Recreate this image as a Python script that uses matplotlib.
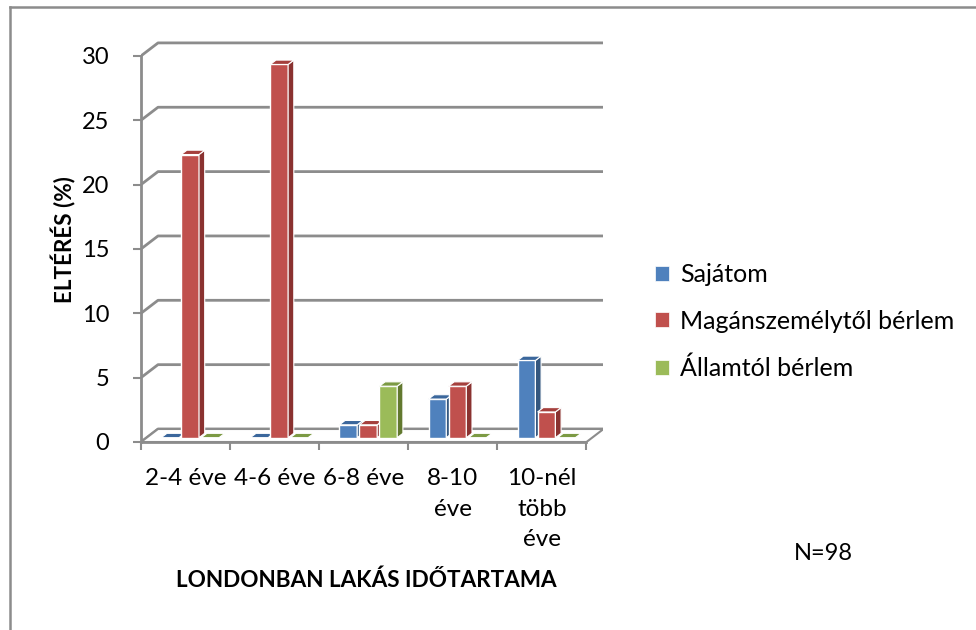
import matplotlib
matplotlib.use("Agg")
import matplotlib.pyplot as plt
from matplotlib.patches import Polygon, Patch
from matplotlib.lines import Line2D

plt.rcParams['font.family'] = ['Lato', 'DejaVu Sans']

categories = ["2-4 éve", "4-6 éve", "6-8 éve", "8-10\néve", "10-nél\ntöbb\néve"]
series_names = ["Sajátom", "Magánszemélytől bérlem", "Államtól bérlem"]
sajatom = [0, 0, 1, 3, 6]
magan = [22, 29, 1, 4, 2]
allam = [0, 0, 4, 0, 0]
yticks = [0, 5, 10, 15, 20, 25, 30]
x_title = "LONDONBAN LAKÁS IDŐTARTAMA"
y_title = "ELTÉRÉS (%)"
note = "N=98"

front_colors = ["#4f81bd", "#c0504d", "#9bbb59"]
top_colors = ["#3b679c", "#a5403d", "#7c9a44"]
side_colors = ["#34577f", "#8a3230", "#62792f"]

W, H = 976, 630
fig = plt.figure(figsize=(W / 100, H / 100), dpi=100)

# axes geometry in pixels
px_cat = 89.1
px_unit = 12.87
x0_px, y0_px = 141.0, 442
DX = 17 / px_cat      # depth offset in x units
DY = 13 / px_unit     # depth offset in y units
xmax = 5 + DX
ymax = 31.15
ax = fig.add_axes([x0_px / W, (H - y0_px) / H, xmax * px_cat / W, ymax * px_unit / H])
ax.set_xlim(0, xmax)
ax.set_ylim(0, ymax)
ax.patch.set_alpha(0)

grid_c = "#8c8c8c"
n = len(categories)
# back wall gridlines
for v in yticks:
    ax.plot([0, DX, xmax], [v, v + DY, v + DY], color=grid_c, lw=2.0, zorder=1,
            solid_capstyle='butt')
# floor
floor = Polygon([(0, 0), (n, 0), (n + DX, DY), (DX, DY)], closed=True,
                facecolor="white", edgecolor=grid_c, lw=1.5, zorder=1.5)
ax.add_patch(floor)

# spines / ticks
for s in ["top", "right"]:
    ax.spines[s].set_visible(False)
ax.spines["left"].set_bounds(0, 30)
ax.spines["bottom"].set_bounds(0, n)
for s in ["left", "bottom"]:
    ax.spines[s].set_color(grid_c)
    ax.spines[s].set_linewidth(2.0)
    ax.spines[s].set_zorder(2)
ax.set_yticks(yticks)
ax.set_yticklabels([str(v) for v in yticks])
ax.tick_params(axis="y", direction="out", length=6, width=1.5, color=grid_c,
               labelsize=17, pad=17)
ax.set_xticks(range(n + 1))
ax.set_xticklabels([])
ax.tick_params(axis="x", which="major", direction="out", length=6, width=1.5,
               color=grid_c)
ax.set_xticks([i + 0.5 for i in range(n)], minor=True)
ax.set_xticklabels(categories, minor=True)
ax.tick_params(axis="x", which="minor", length=0, labelsize=17.5, pad=19)
for lab in ax.get_xticklabels(minor=True):
    lab.set_linespacing(1.55)
    lab.set_verticalalignment("top")

# bars
data = [sajatom, magan, allam]
step = 0.2245
bw = 0.2
bdx, bdy = DX / 3, DY / 3
z = 3
for i in range(n):
    for j, vals in enumerate(data):
        v = vals[i]
        x = i + 0.5 - 1.5 * step + j * step + bdx
        b = bdy
        if v > 0:
            ax.bar([x], [v], bottom=b, width=bw, align="edge", color=front_colors[j],
                   edgecolor="white", linewidth=1.0, zorder=z)
            side = Polygon([(x + bw, b), (x + bw + bdx, b + bdy), (x + bw + bdx, b + v + bdy),
                            (x + bw, b + v)], closed=True, facecolor=side_colors[j],
                           edgecolor="white", lw=0.8, zorder=z + 0.1)
            ax.add_patch(side)
        top = Polygon([(x, b + v), (x + bw, b + v), (x + bw + bdx, b + v + bdy),
                       (x + bdx, b + v + bdy)], closed=True, facecolor=top_colors[j],
                      edgecolor="white", lw=0.8, zorder=z + 0.2)
        ax.add_patch(top)
        z += 1

# titles
fig.text(366 / W, 1 - 580 / H, x_title, ha="center", va="center", fontsize=16.2,
         fontweight="bold")
fig.text(64 / W, 1 - 240 / H, y_title, ha="center", va="center", rotation=90,
         fontsize=16.2, fontweight="bold")
fig.text(823 / W, 1 - 553 / H, note, ha="center", va="center", fontsize=17)

handles = [Patch(facecolor=c, edgecolor="white", lw=0.5) for c in front_colors]
fig.legend(handles, series_names, loc="upper left",
           bbox_to_anchor=(645 / W, 1 - 253 / H), frameon=False, fontsize=18,
           handlelength=0.55, handleheight=0.55, handletextpad=0.45, labelspacing=0.95,
           borderaxespad=0)

# outer chart border (top and left visible)
fig.add_artist(Line2D([9.5 / W, 9.5 / W], [0, 1 - 6.5 / H], color="#8c8c8c", lw=1.8))
fig.add_artist(Line2D([9.5 / W, 1], [1 - 6.5 / H, 1 - 6.5 / H], color="#8c8c8c", lw=1.8))

fig.savefig("out.png", dpi=100, facecolor="white")
